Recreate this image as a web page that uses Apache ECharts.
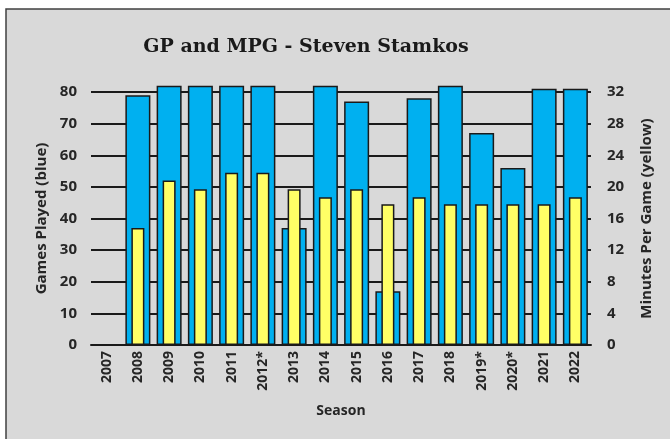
<!DOCTYPE html>
<html>
<head>
<meta charset="utf-8">
<script src="https://cdn.jsdelivr.net/npm/echarts@6/dist/echarts.min.js"></script>
<style>html,body{margin:0;padding:0;background:#fff;}#c{width:670px;height:439px;}</style>
</head>
<body>
<div id="c"></div>
<script>
const seasons = ['2007','2008','2009','2010','2011','2012*','2013','2014','2015','2016','2017','2018','2019*','2020*','2021','2022'];
const gamesPlayed = [null,79,82,82,82,82,37,82,77,17,78,82,67,56,81,81];
const minutesPerGame = [null,14.8,20.8,19.7,21.8,21.8,19.7,18.7,19.7,17.8,18.7,17.8,17.8,17.8,17.8,18.7];
const leftTicks = {min:0,max:80,interval:10};
const rightTicks = {min:0,max:32,interval:4};

const txt = '#262626';
const font = '"Open Sans", "Liberation Sans", sans-serif';
const chart = echarts.init(document.getElementById('c'), null, {renderer:'canvas'});
chart.setOption({
  backgroundColor:'#ffffff',
  animation:false,
  graphic:[{type:'rect',shape:{x:6,y:9,width:700,height:460},style:{fill:'#d9d9d9',stroke:'#404040',lineWidth:1.5},z:-10,silent:true}],
  title:{text:'GP and MPG - Steven Stamkos',left:301,top:33,textAlign:'center',
    textStyle:{fontFamily:'"DejaVu Serif", serif',fontWeight:'bold',fontSize:19,color:'#1a1a1a'}},
  grid:{left:91,right:79,top:92,bottom:94},
  xAxis:[
    {type:'category',data:seasons,
     axisLine:{show:true,lineStyle:{color:'#1a1a1a',width:2}},
     axisTick:{show:false},
     axisLabel:{rotate:90,margin:6,color:txt,fontFamily:font,fontWeight:'bold',fontSize:14,interval:0},
     name:'Season',nameLocation:'middle',nameGap:59,
     nameTextStyle:{color:txt,fontFamily:font,fontWeight:'bold',fontSize:14}},
    {type:'category',data:seasons,show:false}
  ],
  yAxis:[
    {type:'value',min:leftTicks.min,max:leftTicks.max,interval:leftTicks.interval,
     axisLine:{show:false},axisTick:{show:false},
     splitLine:{show:true,lineStyle:{color:'#1a1a1a',width:2}},
     axisLabel:{margin:14,color:txt,fontFamily:font,fontWeight:'bold',fontSize:15},
     name:'Games Played (blue)',nameLocation:'middle',nameGap:40,nameRotate:90,
     nameTextStyle:{color:txt,fontFamily:font,fontWeight:'bold',fontSize:15}},
    {type:'value',min:rightTicks.min,max:rightTicks.max,interval:rightTicks.interval,position:'right',
     axisLine:{show:false},axisTick:{show:false},splitLine:{show:false},
     axisLabel:{margin:16,color:txt,fontFamily:font,fontWeight:'bold',fontSize:15},
     name:'Minutes Per Game (yellow)',nameLocation:'middle',nameGap:48,nameRotate:90,
     nameTextStyle:{color:txt,fontFamily:font,fontWeight:'bold',fontSize:15}}
  ],
  series:[
    {type:'bar',name:'GP',data:gamesPlayed,xAxisIndex:0,yAxisIndex:0,barWidth:25,clip:false,
     itemStyle:{color:'#00b0f0',borderColor:'#1a1a1a',borderWidth:1.5},z:2},
    {type:'bar',name:'MPG',data:minutesPerGame,xAxisIndex:1,yAxisIndex:1,barWidth:13,clip:false,
     itemStyle:{color:'#ffff66',borderColor:'#1a1a1a',borderWidth:1.5},z:3}
  ]
});
</script>
</body>
</html>
